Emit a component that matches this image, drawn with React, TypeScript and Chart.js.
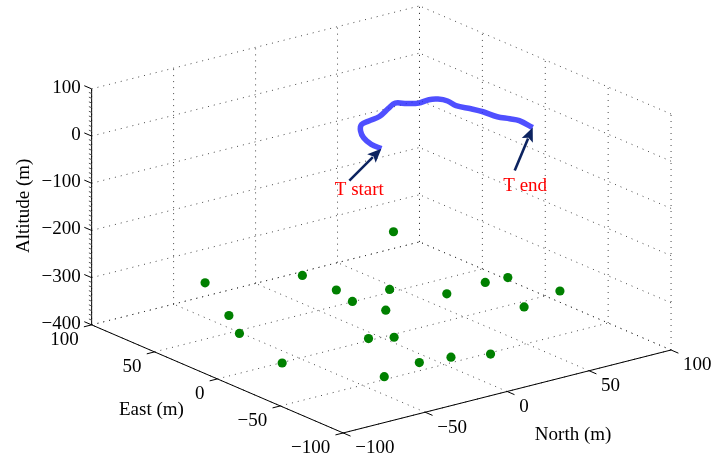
import { useEffect, useRef } from "react";
import { Chart, registerables } from "chart.js";

Chart.register(...registerables);

// Axis limits and tick values (metres)
const northLimits = [-100, 100];
const eastLimits = [-100, 100];
const altitudeLimits = [-400, 100];

const northTicks = [-100, -50, 0, 50, 100];
const eastTicks = [-100, -50, 0, 50, 100];
const altitudeTicks = [-400, -300, -200, -100, 0, 100];

// Target track, from "T start" to "T end"
const trackNorth = [0, 0, 3, 8, 14, 20, 28, 39, 46, 50, 55, 62, 66, 68, 67, 70, 72, 73, 76, 78, 77];
const trackEast = [0, 8, 18, 27, 34, 36, 38, 45, 49, 45, 42, 43, 41, 36, 28, 20, 13, 3, -3, -8, -20];
const trackAltitude = [0, 0, 0, 0, 0, 0, 0, 0, 0, 0, 0, 0, 0, 0, 0, 0, 0, 0, 0, 0, 0];

// Sensor nodes
const nodeNorth = [-40, 4, 4, 0, -60, -72, -82, 78, 25, 43, 68, 81, 89, 61, 5, -27, -16, -29, -12, 6, -55];
const nodeEast = [88, 68, 41, 23, 43, 19, -28, 92, 26, 4, 6, 5, -26, -34, 3, -25, -31, -68, -71, -79, -74];
const nodeAltitude = [-350, -350, -350, -350, -350, -350, -350, -350, -350, -350, -350, -350, -350, -350, -350, -350, -350, -350, -350, -350, -350];

// 3-D view (azimuth / elevation in degrees), orthographic
const AZ = (-37.5 * Math.PI) / 180;
const EL = (30 * Math.PI) / 180;

// screen extent of the unit box, in canvas pixels
const W = 718;
const H = 465;
const BOX_X0 = 343;
const BOX_Y0 = 437;
const SCALE_X = 418.6;
const SCALE_Y = 278;

const FONT = '19px "Liberation Serif", "Times New Roman", serif';
const MINUS = "\u2212";

function project(n: number, e: number, z: number) {
  const nx = (n - northLimits[0]) / (northLimits[1] - northLimits[0]);
  const ny = (e - eastLimits[0]) / (eastLimits[1] - eastLimits[0]);
  const nz = (z - altitudeLimits[0]) / (altitudeLimits[1] - altitudeLimits[0]);
  const u = Math.cos(AZ) * nx + Math.sin(AZ) * ny;
  const v = -Math.sin(AZ) * Math.sin(EL) * nx + Math.cos(AZ) * Math.sin(EL) * ny + Math.cos(EL) * nz;
  return { x: u, y: v };
}

function fmt(v: number) {
  return v < 0 ? MINUS + String(-v) : String(v);
}

type P3 = [number, number, number];

// Grid segments on the two back walls and the floor
function gridSegments(): [P3, P3][] {
  const segs: [P3, P3][] = [];
  const [n0, n1] = northLimits;
  const [e0, e1] = eastLimits;
  const [z0, z1] = altitudeLimits;
  // wall East = max
  for (const n of northTicks) segs.push([[n, e1, z0], [n, e1, z1]]);
  for (const z of altitudeTicks) segs.push([[n0, e1, z], [n1, e1, z]]);
  // wall North = max
  for (const e of eastTicks) segs.push([[n1, e, z0], [n1, e, z1]]);
  for (const z of altitudeTicks) segs.push([[n1, e0, z], [n1, e1, z]]);
  // floor
  for (const n of northTicks) segs.push([[n, e0, z0], [n, e1, z0]]);
  for (const e of eastTicks) segs.push([[n0, e, z0], [n1, e, z0]]);
  return segs;
}

function pix(chart: any, n: number, e: number, z: number) {
  const p = project(n, e, z);
  return [chart.scales.x.getPixelForValue(p.x), chart.scales.y.getPixelForValue(p.y)];
}

function unitDir(chart: any, from: P3, to: P3) {
  const a = pix(chart, ...from);
  const b = pix(chart, ...to);
  const dx = b[0] - a[0];
  const dy = b[1] - a[1];
  const len = Math.hypot(dx, dy);
  return [dx / len, dy / len];
}

function drawArrow(ctx: CanvasRenderingContext2D, tail: number[], tip: number[], color: string) {
  const dx = tip[0] - tail[0];
  const dy = tip[1] - tail[1];
  const len = Math.hypot(dx, dy);
  const ux = dx / len;
  const uy = dy / len;
  const headLen = 14;
  const headHalf = 6;
  const bx = tip[0] - ux * headLen;
  const by = tip[1] - uy * headLen;
  ctx.save();
  ctx.strokeStyle = color;
  ctx.fillStyle = color;
  ctx.lineWidth = 2.6;
  ctx.beginPath();
  ctx.moveTo(tail[0], tail[1]);
  ctx.lineTo(bx + ux * 2, by + uy * 2);
  ctx.stroke();
  ctx.beginPath();
  ctx.moveTo(tip[0], tip[1]);
  ctx.lineTo(bx - uy * headHalf, by + ux * headHalf);
  ctx.lineTo(bx + ux * 3, by + uy * 3);
  ctx.lineTo(bx + uy * headHalf, by - ux * headHalf);
  ctx.closePath();
  ctx.fill();
  ctx.restore();
}

const box3d = {
  id: "box3d",
  beforeDatasetsDraw(chart: any) {
    const ctx: CanvasRenderingContext2D = chart.ctx;
    ctx.save();
    ctx.strokeStyle = "rgba(40,40,40,0.85)";
    ctx.lineWidth = 1;
    ctx.setLineDash([1, 5]);
    for (const [a, b] of gridSegments()) {
      const p = pix(chart, ...a);
      const q = pix(chart, ...b);
      ctx.beginPath();
      ctx.moveTo(p[0], p[1]);
      ctx.lineTo(q[0], q[1]);
      ctx.stroke();
    }
    ctx.restore();
  },
  afterDatasetsDraw(chart: any) {
    const ctx: CanvasRenderingContext2D = chart.ctx;
    const [n0, n1] = northLimits;
    const [e0, e1] = eastLimits;
    const [z0, z1] = altitudeLimits;
    ctx.save();
    ctx.setLineDash([]);
    ctx.strokeStyle = "#000";
    ctx.lineWidth = 1;

    const line = (a: number[], b: number[]) => {
      ctx.beginPath();
      ctx.moveTo(a[0], a[1]);
      ctx.lineTo(b[0], b[1]);
      ctx.stroke();
    };

    // axis lines
    line(pix(chart, n0, e0, z0), pix(chart, n0, e1, z0)); // East axis
    line(pix(chart, n0, e0, z0), pix(chart, n1, e0, z0)); // North axis
    line(pix(chart, n0, e1, z0), pix(chart, n0, e1, z1)); // Altitude axis

    const dNorthNeg = unitDir(chart, [n1, e0, z0], [n0, e0, z0]);
    const dEastNeg = unitDir(chart, [n0, e1, z0], [n0, e0, z0]);
    const dEastPos = [-dEastNeg[0], -dEastNeg[1]];
    const TICK = 8;

    ctx.font = FONT;
    ctx.fillStyle = "#000";

    // East ticks + labels
    ctx.textAlign = "right";
    ctx.textBaseline = "middle";
    for (const e of eastTicks) {
      const p = pix(chart, n0, e, z0);
      line(p, [p[0] + dNorthNeg[0] * TICK, p[1] + dNorthNeg[1] * TICK]);
      ctx.fillText(fmt(e), p[0] - 13, p[1] + 15);
    }

    // North ticks + labels
    ctx.textAlign = "left";
    for (const n of northTicks) {
      const p = pix(chart, n, e0, z0);
      line(p, [p[0] + dEastNeg[0] * TICK, p[1] + dEastNeg[1] * TICK]);
      ctx.fillText(fmt(n), p[0] + 12, p[1] + 15.5);
    }

    // Altitude ticks (major + minor) + labels
    ctx.textAlign = "right";
    for (let z = z0; z <= z1; z += 10) {
      const p = pix(chart, n0, e1, z);
      const major = altitudeTicks.includes(z);
      const len = major ? TICK : 3;
      ctx.strokeStyle = major ? "#000" : "#555";
      line(p, [p[0] + dEastPos[0] * len, p[1] + dEastPos[1] * len]);
    }
    ctx.strokeStyle = "#000";
    for (const z of altitudeTicks) {
      const p = pix(chart, n0, e1, z);
      ctx.fillText(fmt(z), p[0] - 11, p[1] - 1);
    }

    // axis titles
    ctx.textAlign = "center";
    const eMid = pix(chart, n0, 0, z0);
    ctx.fillText("East (m)", eMid[0] - 66, eMid[1] + 31);
    const nMid = pix(chart, 0, e0, z0);
    ctx.fillText("North (m)", nMid[0] + 66, nMid[1] + 44);
    const zMid = pix(chart, n0, e1, (z0 + z1) / 2);
    ctx.save();
    ctx.translate(zMid[0] - 68, zMid[1] - 1);
    ctx.rotate(-Math.PI / 2);
    ctx.fillText("Altitude (m)", 0, 0);
    ctx.restore();

    // start / end annotations
    const last = trackNorth.length - 1;
    const startTip = pix(chart, trackNorth[0], trackEast[0], trackAltitude[0]);
    const endTip = pix(chart, trackNorth[last], trackEast[last], trackAltitude[last]);
    const arrowColor = "#0c2360";
    const startTail = [startTip[0] - 32, startTip[1] + 32];
    const endTail = [endTip[0] - 18, endTip[1] + 43];
    drawArrow(ctx, startTail, startTip, arrowColor);
    drawArrow(ctx, endTail, endTip, arrowColor);
    ctx.fillStyle = "#ff0000";
    ctx.textAlign = "center";
    ctx.textBaseline = "alphabetic";
    ctx.fillText("T start", startTail[0] + 10, startTail[1] + 14);
    ctx.fillText("T end", endTail[0] + 10.5, endTail[1] + 20);
    ctx.restore();
  },
};

export default function App() {
  const canvasRef = useRef<HTMLCanvasElement | null>(null);

  useEffect(() => {
    document.body.style.margin = "0";
    const canvas = canvasRef.current;
    if (!canvas) return;

    const trackData = trackNorth.map((n, i) => project(n, trackEast[i], trackAltitude[i]));
    const nodeData = nodeNorth.map((n, i) => project(n, nodeEast[i], nodeAltitude[i]));

    const chart = new Chart(canvas, {
      type: "scatter",
      data: {
        datasets: [
          {
            label: "Target",
            data: trackData,
            showLine: true,
            borderColor: "rgba(40,40,255,0.82)",
            borderWidth: 5.5,
            pointRadius: 0,
            tension: 0.35,
            borderJoinStyle: "round",
            order: 0,
          } as any,
          {
            label: "Nodes",
            data: nodeData,
            pointRadius: 4.6,
            pointBackgroundColor: "#008000",
            pointBorderWidth: 0,
            borderColor: "#008000",
            order: 1,
          } as any,
        ],
      },
      options: {
        animation: false,
        responsive: false,
        devicePixelRatio: 1,
        layout: { padding: 0 },
        plugins: {
          legend: { display: false },
          tooltip: { enabled: false },
          title: { display: false },
        },
        scales: {
          x: {
            type: "linear",
            display: false,
            min: -BOX_X0 / SCALE_X,
            max: (W - BOX_X0) / SCALE_X,
          },
          y: {
            type: "linear",
            display: false,
            min: (BOX_Y0 - H) / SCALE_Y,
            max: BOX_Y0 / SCALE_Y,
          },
        },
      },
      plugins: [box3d as any],
    });

    return () => chart.destroy();
  }, []);

  return (
    <div style={{ width: W, height: H, background: "#fff" }}>
      <canvas ref={canvasRef} width={W} height={H} />
    </div>
  );
}
